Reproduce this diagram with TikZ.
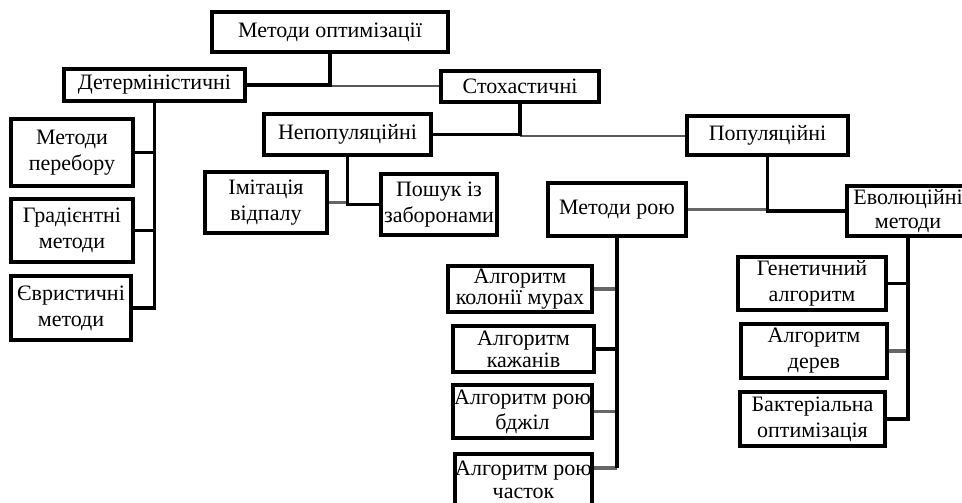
\documentclass[tikz,border=0pt]{standalone}
\usepackage{fontspec}
\setmainfont{Liberation Serif}
\begin{document}
\begin{tikzpicture}[x=1pt,y=-1pt,
  box/.style={draw=black,line width=3.8pt,inner sep=0pt,align=center,
    font=\fontsize{22}{26}\selectfont,minimum width=#1},
  box/.default=100pt,
  tight/.style={font=\fontsize{22}{#1}\selectfont},
  conn/.style={draw=black,line width=3.4pt},
  greyconn/.style={draw=black!60,line width=3.4pt},
  thinconn/.style={draw=black!65,line width=2pt}]
\fill[white] (0,0) rectangle (962,503);
\useasboundingbox (0,0) rectangle (962,503);
% boxes
\node[box=236pt,minimum height=40pt] (top) at (330,32) {Методи оптимізації};
\node[box=181pt,minimum height=32pt] (det) at (154.5,85) {Детерміністичні};
\node[box=158pt,minimum height=31pt] (stoch) at (520,86.5) {Стохастичні};
\node[box=167pt,minimum height=41pt] (nep) at (347.5,134.5) {Непопуляційні};
\node[box=161pt,minimum height=39pt] (pop) at (767.5,135.5) {Популяційні};
\node[box=122pt,minimum height=67pt] (pereb) at (72,152.5) {Методи\\перебору};
\node[box=122pt,minimum height=63pt] (grad) at (72,230.5) {Градієнтні\\методи};
\node[box=120pt,minimum height=64pt] (evr) at (71,308) {Євристичні\\методи};
\node[box=122pt,minimum height=61pt] (imit) at (266,202.5) {Імітація\\відпалу};
\node[box=116pt,minimum height=61pt] (posh) at (439,204.5) {Пошук із\\заборонами};
\node[box=138pt,minimum height=53pt] (roy) at (617,209.5) {Методи рою};
\node[box=122pt,minimum height=50pt,tight=24] (evol) at (908,211) {Еволюційні\\методи};
\node[box=144pt,minimum height=46pt,tight=20.5] (mur) at (520,289) {Алгоритм\\колонії мурах};
\node[box=141pt,minimum height=46pt,tight=22] (kaj) at (523.5,349) {Алгоритм\\кажанів};
\node[box=139pt,minimum height=53pt,tight=25] (bdj) at (522.5,411.5) {Алгоритм рою\\бджіл};
\node[box=137pt,minimum height=52pt,tight=23] (chas) at (523.5,480) {Алгоритм рою\\часток};
\node[box=148pt,minimum height=53pt] (gen) at (812,283.5) {Генетичний\\алгоритм};
\node[box=146pt,minimum height=54pt] (der) at (814,351) {Алгоритм\\дерев};
\node[box=145pt,minimum height=54pt] (bak) at (812.5,419) {Бактеріальна\\оптимізація};
\coordinate (chasin) at ([yshift=12pt]chas.east);
% grey / thin connector segments (drawn first)
\draw[thinconn] (top.south |- stoch.west) -- (stoch.west);
\draw[thinconn] (stoch.south |- pop.west) -- (pop.west);
\draw[greyconn] (nep.south |- imit.east) -- (imit.east);
\draw[greyconn,line width=3.8pt] (pop.south |- roy.east) -- (roy.east);
\draw[greyconn] (roy.south |- mur.east) -- (mur.east);
\draw[greyconn] (roy.south |- bdj.east) -- (bdj.east);
\draw[greyconn] (roy.south |- chasin) -- (chasin);
\draw[greyconn] (evol.south |- der.east) -- (der.east);
% black connectors
\draw[conn] (top.south) |- (det.east);
\draw[conn] (stoch.south) |- (nep.east);
\draw[conn] (det.south) |- (pereb.east);
\draw[conn] (det.south) |- (grad.east);
\draw[conn] (det.south) |- (evr.east);
\draw[conn] (nep.south) -- (nep.south |- imit.east);
\draw[conn] (nep.south) |- (posh.west);
\draw[conn] (pop.south) |- (evol.west);
\draw[conn] (roy.south) |- (kaj.east);
\draw[conn] (roy.south) -- (roy.south |- chasin);
\draw[conn] (evol.south) |- (gen.east);
\draw[conn] (evol.south) |- (bak.east);
\end{tikzpicture}
\end{document}
